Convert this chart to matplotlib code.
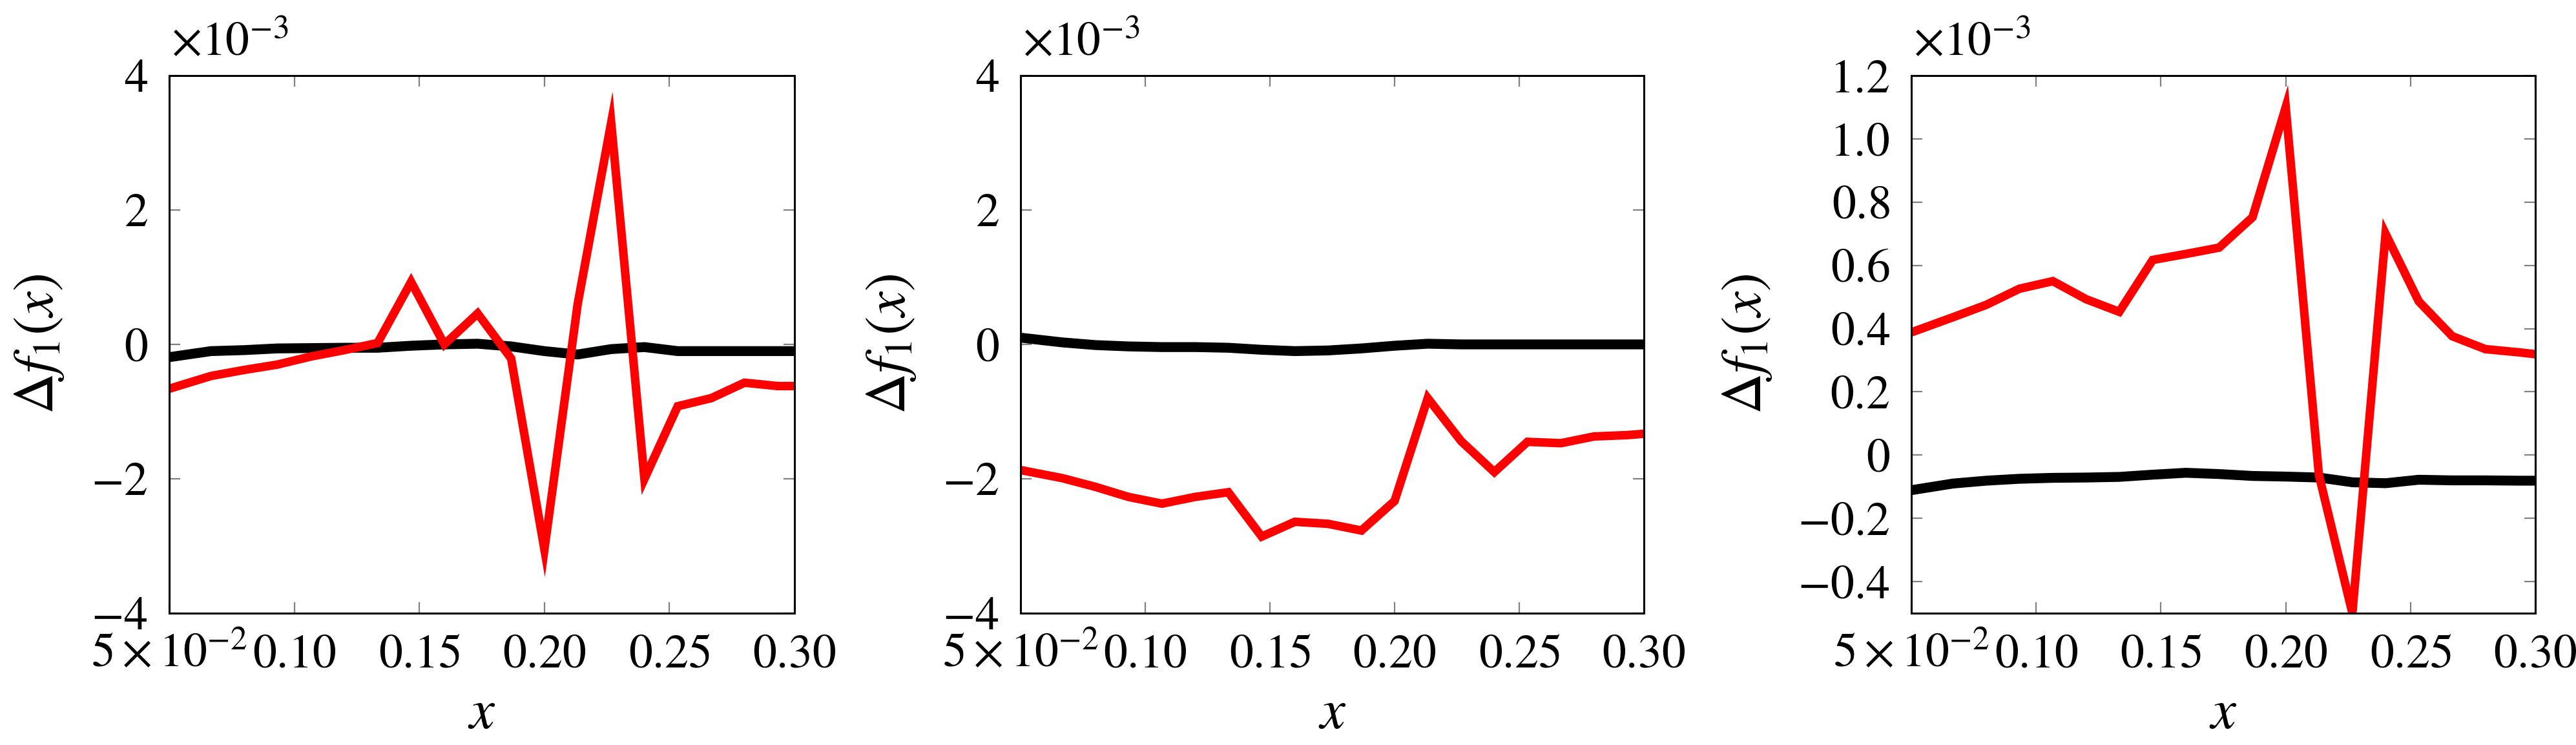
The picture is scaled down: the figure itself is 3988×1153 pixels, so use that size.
import matplotlib
matplotlib.use("Agg")
import matplotlib.pyplot as plt

plt.rcParams['font.family'] = 'STIXGeneral'
plt.rcParams['mathtext.fontset'] = 'stix'

# x grid (clipped at the axis limits 0.05 .. 0.30)
x = [0.05, 0.0667, 0.08, 0.0933, 0.1067, 0.12, 0.1333, 0.1467, 0.16, 0.1733,
     0.1867, 0.20, 0.2133, 0.2267, 0.24, 0.2533, 0.2667, 0.28, 0.2933, 0.30]

# values in units of 1e-3
black_1 = [-0.19, -0.10, -0.085, -0.06, -0.055, -0.05, -0.05, -0.02, 0.0, 0.01,
           -0.03, -0.10, -0.15, -0.07, -0.04, -0.10, -0.10, -0.10, -0.10, -0.10]
red_1 = [-0.66, -0.47, -0.38, -0.30, -0.18, -0.085, 0.02, 0.93, 0.0, 0.46,
         -0.21, -3.05, 0.60, 3.30, -2.0, -0.92, -0.80, -0.57, -0.62, -0.62]

black_2 = [0.10, 0.03, -0.01, -0.03, -0.04, -0.04, -0.05, -0.08, -0.10, -0.09,
           -0.06, -0.02, 0.01, 0.0, 0.0, 0.0, 0.0, 0.0, 0.0, 0.0]
red_2 = [-1.87, -1.99, -2.12, -2.27, -2.37, -2.27, -2.20, -2.86, -2.64, -2.67,
         -2.77, -2.33, -0.80, -1.44, -1.90, -1.45, -1.47, -1.37, -1.35, -1.33]

black_3 = [-0.111, -0.09, -0.081, -0.075, -0.072, -0.071, -0.069, -0.062, -0.056, -0.06,
           -0.066, -0.068, -0.071, -0.086, -0.089, -0.078, -0.08, -0.08, -0.081, -0.081]
red_3 = [0.388, 0.436, 0.475, 0.526, 0.55, 0.493, 0.453, 0.617, 0.636, 0.656,
         0.752, 1.10, -0.063, -0.50, 0.70, 0.486, 0.376, 0.335, 0.325, 0.319]

xticks = [0.05, 0.10, 0.15, 0.20, 0.25, 0.30]
xtick_labels = [r'$5\times10^{-2}$', r'$0.10$', r'$0.15$', r'$0.20$', r'$0.25$', r'$0.30$']

yticks_12 = [-4, -2, 0, 2, 4]
ytick_labels_12 = [r'$-4$', r'$-2$', r'$0$', r'$2$', r'$4$']
yticks_3 = [-0.4, -0.2, 0, 0.2, 0.4, 0.6, 0.8, 1.0, 1.2]
ytick_labels_3 = [r'$-0.4$', r'$-0.2$', r'$0$', r'$0.2$', r'$0.4$', r'$0.6$',
                  r'$0.8$', r'$1.0$', r'$1.2$']

# (black, red, ylim, yticks, ytick labels, left edge px, width px, ylabel offset)
panels = [
    (black_1, red_1, (-4, 4), yticks_12, ytick_labels_12, 262, 968, -0.165),
    (black_2, red_2, (-4, 4), yticks_12, ytick_labels_12, 1580, 965, -0.165),
    (black_3, red_3, (-0.5, 1.2), yticks_3, ytick_labels_3, 2959, 966, -0.22),
]

W, H = 3988, 1153
fig = plt.figure(figsize=(W / 100, H / 100), dpi=100)

tick_fs = 53
label_fs = 63

for black, red, ylim, yt, ytl, left_px, w_px, ylab_x in panels:
    ax = fig.add_axes([left_px / W, 1 - 949 / H, w_px / W, 832 / H])
    ax.plot(x, black, color='black', lw=11, solid_joinstyle='miter')
    ax.plot(x, red, color='#ff0000', lw=9.5, solid_joinstyle='miter')
    ax.set_xlim(0.05, 0.30)
    ax.set_ylim(*ylim)
    ax.set_xticks(xticks)
    ax.set_xticklabels(xtick_labels)
    ax.set_yticks(yt)
    ax.set_yticklabels(ytl)
    ax.tick_params(direction='in', length=12, width=1.6, color='#808080',
                   top=True, right=True, labelsize=tick_fs)
    ax.tick_params(axis='x', pad=60)
    ax.tick_params(axis='y', pad=24)
    for lab in ax.get_xticklabels():
        lab.set_verticalalignment('baseline')
    for sp in ax.spines.values():
        sp.set_linewidth(2.2)
    ax.set_xlabel(r'$x$', fontsize=label_fs, va='baseline')
    ax.xaxis.set_label_coords(0.5, -0.214)
    ax.set_ylabel(r'$\Delta f_1(x)$', fontsize=label_fs)
    ax.yaxis.set_label_coords(ylab_x, 0.5)
    ax.text(0.003, 1.037, r'$\times10^{-3}$', transform=ax.transAxes,
            fontsize=tick_fs, ha='left', va='baseline')

fig.savefig('out.png', dpi=100)
